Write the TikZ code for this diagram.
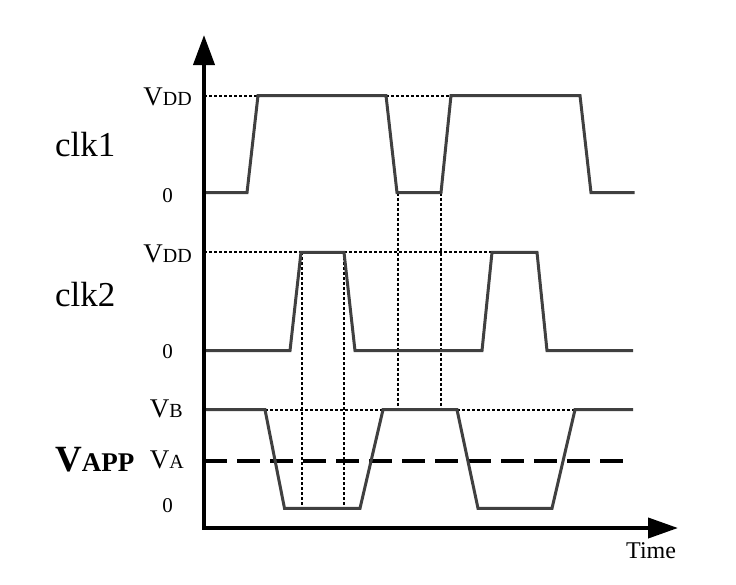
\documentclass[tikz,border=0pt]{standalone}
\usepackage{fontspec}
\setmainfont{Liberation Serif}
\usetikzlibrary{arrows.meta}
\newcommand{\smallcapsz}{\fontsize{20}{20}\selectfont}
\begin{document}
\begin{tikzpicture}[x=1pt,y=-1pt,
  axis/.style={line width=4pt, line join=miter},
  sig/.style={line width=3pt, draw={rgb,255:red,64;green,64;blue,64}, line join=miter},
  guide/.style={line width=2pt, dash pattern=on 3pt off 2pt},
  ref/.style={line width=4pt, dash pattern=on 23pt off 10pt},
  lvl/.style={inner sep=0pt, font=\fontsize{27}{27}\selectfont},
  zero/.style={inner sep=0pt, font=\fontsize{21}{21}\selectfont},
  sname/.style={inner sep=0pt, font=\fontsize{35}{35}\selectfont}]
\useasboundingbox (0,0) rectangle (736,584);
% coordinates
\coordinate (top) at (204,35);
\coordinate (org) at (204,528);
\coordinate (right) at (678,528);
% guides
\draw[guide] (204,95.5) -- (258,95.5);
\draw[guide] (386,95.5) -- (451,95.5);
\draw[guide] (204,252.3) -- (301,252.3);
\draw[guide] (344,252.3) -- (492,252.3);
\draw[guide] (265,409.7) -- (383,409.7);
\draw[guide] (457,409.7) -- (575,409.7);
\draw[guide] (397.5,192.7) -- (397.5,409.7);
\draw[guide] (441,192.7) -- (441,409.7);
\draw[guide] (302,252.3) -- (302,508.3);
\draw[guide] (343.5,252.3) -- (343.5,508.3);
% VA reference
\draw[ref] (204,461) -- (626,461);
% signals
\draw[sig] (204,192.7) -- (247,192.7) -- (258,95.5) -- (386,95.5) -- (397,192.7) -- (441,192.7) -- (451,95.5) -- (580,95.5) -- (591,192.7) -- (634.5,192.7);
\draw[sig] (204,350.7) -- (290,350.7) -- (301,252.3) -- (344,252.3) -- (355,350.7) -- (482,350.7) -- (492,252.3) -- (537,252.3) -- (547,350.7) -- (633,350.7);
\draw[sig] (206,409.7) -- (265,409.7) -- (284.5,508.3) -- (360,508.3) -- (383,409.7) -- (457,409.7) -- (478,508.3) -- (552,508.3) -- (575,409.7) -- (633,409.7);
% axes
\draw[axis, {Triangle[length=30pt,width=21pt]}-{Triangle[length=30pt,width=20pt]}] (top) -- (org) -- (right);
% labels
\node[lvl, anchor=base east] (vdd1) at (192,105.5) {V{\smallcapsz DD}};
\node[zero, anchor=base east] (z1) at (173,202.5) {0};
\node[lvl, anchor=base east] (vdd2) at (192,262.5) {V{\smallcapsz DD}};
\node[zero, anchor=base east] (z2) at (173,358) {0};
\node[lvl, anchor=base east] (vb) at (183,417.5) {V{\smallcapsz B}};
\node[lvl, anchor=base east] (va) at (184,468) {V{\smallcapsz A}};
\node[zero, anchor=base east] (z3) at (173,512) {0};
\node[sname, anchor=base west] (clk1) at (55,156) {clk1};
\node[sname, anchor=base west] (clk2) at (55,306) {clk2};
\node[inner sep=0pt, anchor=base west] (vapp) at (55,471) {\fontsize{37}{37}\selectfont\bfseries V\fontsize{27}{27}\selectfont APP};
\node[inner sep=0pt, anchor=base west, font=\fontsize{24}{24}\selectfont] (time) at (626,558) {Time};
\end{tikzpicture}
\end{document}
